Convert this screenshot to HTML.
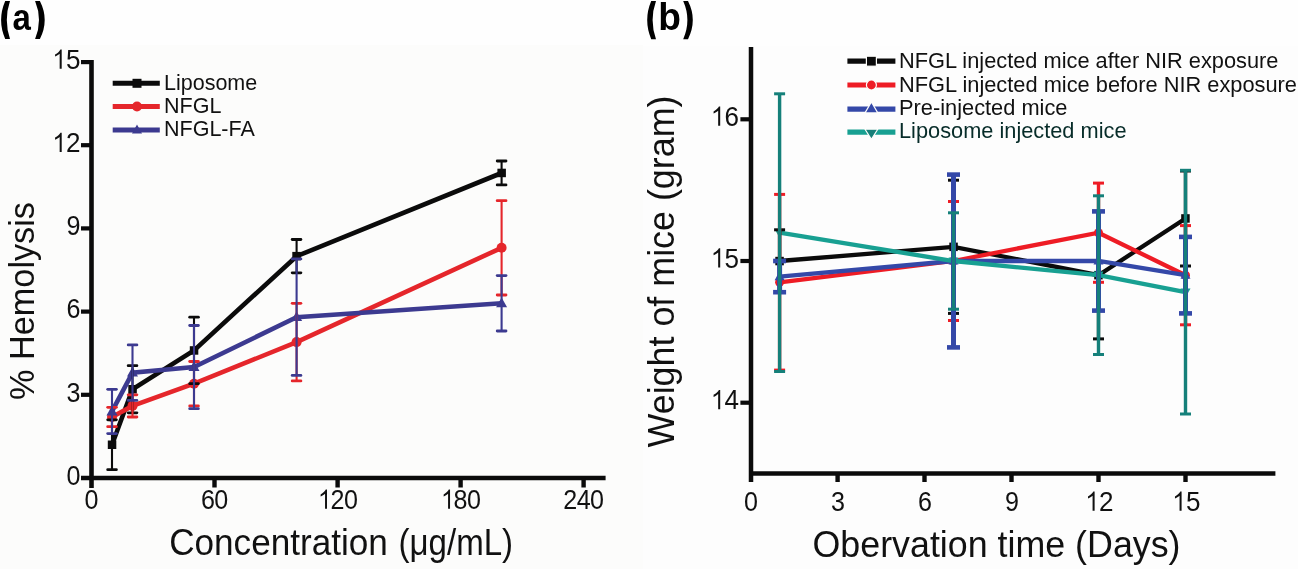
<!DOCTYPE html>
<html><head><meta charset="utf-8"><style>
html,body{margin:0;padding:0;background:#fefefe;}
body{width:1298px;height:569px;overflow:hidden;}
svg{display:block;font-family:"Liberation Sans", sans-serif;will-change:transform;}
</style></head><body>
<svg width="1298" height="569" viewBox="0 0 1298 569">
<rect x="0" y="0" width="1298" height="569" fill="#fefefe"/>
<rect x="0" y="45" width="643" height="524" fill="#fcfcfb"/>
<rect x="643" y="46" width="655" height="523" fill="#fdfdfd"/>

<path d="M5.2,1.1 Q-3.00,20.10 5.2,39.1 L10,39.1 Q3.60,20.10 10,1.1 Z" fill="#000"/>
<path d="M39.9,1.1 Q49.50,20.10 39.9,39.1 L35.1,39.1 Q42.90,20.10 35.1,1.1 Z" fill="#000"/>
<text transform="translate(12.43,30.15) scale(0.914,1)" x="0" y="0" font-size="36.1" font-weight="bold" fill="#000">a</text>
<path d="M651.2,1.1 Q643.20,20.15 651.2,39.2 L656,39.2 Q649.20,20.15 656,1.1 Z" fill="#000"/>
<path d="M688,1.1 Q697.60,20.15 688,39.2 L683.2,39.2 Q691.60,20.15 683.2,1.1 Z" fill="#000"/>
<text transform="translate(658.35,30.33) scale(0.969,1)" x="0" y="0" font-size="38.3" font-weight="bold" fill="#000">b</text>
<line x1="91.5" y1="60" x2="91.5" y2="488" stroke="#0b0b0b" stroke-width="4.6"/>
<line x1="81" y1="478" x2="605.6" y2="478" stroke="#0b0b0b" stroke-width="4.6"/>
<line x1="81" y1="394.8" x2="92" y2="394.8" stroke="#0b0b0b" stroke-width="4.2"/>
<line x1="81" y1="311.6" x2="92" y2="311.6" stroke="#0b0b0b" stroke-width="4.2"/>
<line x1="81" y1="228.4" x2="92" y2="228.4" stroke="#0b0b0b" stroke-width="4.2"/>
<line x1="81" y1="145.2" x2="92" y2="145.2" stroke="#0b0b0b" stroke-width="4.2"/>
<line x1="81" y1="62.1" x2="92" y2="62.1" stroke="#0b0b0b" stroke-width="4.2"/>
<line x1="214.5" y1="478" x2="214.5" y2="487.5" stroke="#0b0b0b" stroke-width="4.4"/>
<line x1="337.6" y1="478" x2="337.6" y2="487.5" stroke="#0b0b0b" stroke-width="4.4"/>
<line x1="460.6" y1="478" x2="460.6" y2="487.5" stroke="#0b0b0b" stroke-width="4.4"/>
<line x1="583.6" y1="478" x2="583.6" y2="487.5" stroke="#0b0b0b" stroke-width="4.4"/>
<text transform="translate(66.54,484.80) scale(0.93,1)" x="0" y="0" font-size="27.0" fill="#111">0</text>
<text transform="translate(66.54,401.61) scale(0.93,1)" x="0" y="0" font-size="27.0" fill="#111">3</text>
<text transform="translate(66.54,318.42) scale(0.93,1)" x="0" y="0" font-size="27.0" fill="#111">6</text>
<text transform="translate(66.54,235.23) scale(0.93,1)" x="0" y="0" font-size="27.0" fill="#111">9</text>
<path transform="translate(51.61,152.04) scale(0.01272,-0.01318)" d="M793 0H633V1147Q568 1085 462 1023Q356 961 272 930V1094Q422 1165 534 1266Q646 1367 693 1462H793Z" fill="#111"/><text transform="translate(66.01,152.04) scale(0.965,1)" x="0" y="0" font-size="27.0" fill="#111">2</text>
<path transform="translate(51.61,68.85) scale(0.01272,-0.01318)" d="M793 0H633V1147Q568 1085 462 1023Q356 961 272 930V1094Q422 1165 534 1266Q646 1367 693 1462H793Z" fill="#111"/><text transform="translate(66.01,68.85) scale(0.965,1)" x="0" y="0" font-size="27.0" fill="#111">5</text>
<text transform="translate(84.52,508.80) scale(0.93,1)" x="0" y="0" font-size="27.0" fill="#111">0</text>
<text transform="translate(200.90,508.80) scale(0.93,1)" x="0" y="0" font-size="27.0" fill="#111">6</text><text transform="translate(214.20,508.80) scale(0.93,1)" x="0" y="0" font-size="27.0" fill="#111">0</text>
<path transform="translate(317.28,508.80) scale(0.01226,-0.01318)" d="M793 0H633V1147Q568 1085 462 1023Q356 961 272 930V1094Q422 1165 534 1266Q646 1367 693 1462H793Z" fill="#111"/><text transform="translate(330.58,508.80) scale(0.93,1)" x="0" y="0" font-size="27.0" fill="#111">2</text><text transform="translate(343.88,508.80) scale(0.93,1)" x="0" y="0" font-size="27.0" fill="#111">0</text>
<path transform="translate(440.31,508.80) scale(0.01226,-0.01318)" d="M793 0H633V1147Q568 1085 462 1023Q356 961 272 930V1094Q422 1165 534 1266Q646 1367 693 1462H793Z" fill="#111"/><text transform="translate(453.61,508.80) scale(0.93,1)" x="0" y="0" font-size="27.0" fill="#111">8</text><text transform="translate(466.91,508.80) scale(0.93,1)" x="0" y="0" font-size="27.0" fill="#111">0</text>
<text transform="translate(563.34,508.80) scale(0.93,1)" x="0" y="0" font-size="27.0" fill="#111">2</text><text transform="translate(576.64,508.80) scale(0.93,1)" x="0" y="0" font-size="27.0" fill="#111">4</text><text transform="translate(589.94,508.80) scale(0.93,1)" x="0" y="0" font-size="27.0" fill="#111">0</text>
<text x="169.22" y="555.00" font-size="36" fill="#111" textLength="218.56" lengthAdjust="spacingAndGlyphs">Concentration</text>
<text x="398.45" y="555.00" font-size="36" fill="#111" textLength="114.71" lengthAdjust="spacingAndGlyphs">(μg/mL)</text>
<text transform="translate(34.4,400) rotate(-90)" x="0" y="0" font-size="35" fill="#111" textLength="198" lengthAdjust="spacingAndGlyphs">% Hemolysis</text>
<polyline points="112.0,444.7 132.5,389.3 194.0,350.4 296.6,256.2 501.6,173.0" fill="none" stroke="#0b0b0b" stroke-width="4.6" stroke-linejoin="miter"/>
<rect x="107.8" y="440.5" width="8.5" height="8.5" fill="#0b0b0b"/>
<rect x="128.3" y="385.0" width="8.5" height="8.5" fill="#0b0b0b"/>
<rect x="189.8" y="346.2" width="8.5" height="8.5" fill="#0b0b0b"/>
<rect x="292.3" y="251.9" width="8.5" height="8.5" fill="#0b0b0b"/>
<rect x="497.4" y="168.7" width="8.5" height="8.5" fill="#0b0b0b"/>
<polyline points="112.0,417.0 132.5,405.9 194.0,383.7 296.6,342.1 501.6,247.8" fill="none" stroke="#e5262b" stroke-width="4.6" stroke-linejoin="miter"/>
<circle cx="112.0" cy="417.0" r="5" fill="#e5262b"/>
<circle cx="132.5" cy="405.9" r="5" fill="#e5262b"/>
<circle cx="194.0" cy="383.7" r="5" fill="#e5262b"/>
<circle cx="296.6" cy="342.1" r="5" fill="#e5262b"/>
<circle cx="501.6" cy="247.8" r="5" fill="#e5262b"/>
<polyline points="112.0,411.4 132.5,372.6 194.0,367.1 296.6,317.2 501.6,303.3" fill="none" stroke="#3c3a90" stroke-width="4.6" stroke-linejoin="miter"/>
<polygon points="112.0,405.5 106.5,415.4 117.5,415.4" fill="#3c3a90"/>
<polygon points="132.5,366.7 127.0,376.6 138.0,376.6" fill="#3c3a90"/>
<polygon points="194.0,361.1 188.5,371.0 199.5,371.0" fill="#3c3a90"/>
<polygon points="296.6,311.2 291.1,321.1 302.1,321.1" fill="#3c3a90"/>
<polygon points="501.6,297.4 496.1,307.3 507.1,307.3" fill="#3c3a90"/>
<line x1="112.0" y1="469.7" x2="112.0" y2="419.8" stroke="#0b0b0b" stroke-width="2.1"/><line x1="107.7" y1="469.7" x2="116.4" y2="469.7" stroke="#0b0b0b" stroke-width="2.8" stroke-linecap="round"/><line x1="107.7" y1="419.8" x2="116.4" y2="419.8" stroke="#0b0b0b" stroke-width="2.8" stroke-linecap="round"/>
<line x1="132.5" y1="412.8" x2="132.5" y2="365.7" stroke="#0b0b0b" stroke-width="2.1"/><line x1="128.2" y1="412.8" x2="136.9" y2="412.8" stroke="#0b0b0b" stroke-width="2.8" stroke-linecap="round"/><line x1="128.2" y1="365.7" x2="136.9" y2="365.7" stroke="#0b0b0b" stroke-width="2.8" stroke-linecap="round"/>
<line x1="194.0" y1="383.7" x2="194.0" y2="317.2" stroke="#0b0b0b" stroke-width="2.1"/><line x1="189.7" y1="383.7" x2="198.4" y2="383.7" stroke="#0b0b0b" stroke-width="2.8" stroke-linecap="round"/><line x1="189.7" y1="317.2" x2="198.4" y2="317.2" stroke="#0b0b0b" stroke-width="2.8" stroke-linecap="round"/>
<line x1="296.6" y1="272.8" x2="296.6" y2="239.5" stroke="#0b0b0b" stroke-width="2.1"/><line x1="292.2" y1="272.8" x2="300.9" y2="272.8" stroke="#0b0b0b" stroke-width="2.8" stroke-linecap="round"/><line x1="292.2" y1="239.5" x2="300.9" y2="239.5" stroke="#0b0b0b" stroke-width="2.8" stroke-linecap="round"/>
<line x1="501.6" y1="184.9" x2="501.6" y2="161.0" stroke="#0b0b0b" stroke-width="2.1"/><line x1="497.2" y1="184.9" x2="506.0" y2="184.9" stroke="#0b0b0b" stroke-width="2.8" stroke-linecap="round"/><line x1="497.2" y1="161.0" x2="506.0" y2="161.0" stroke="#0b0b0b" stroke-width="2.8" stroke-linecap="round"/>
<line x1="112.0" y1="426.7" x2="112.0" y2="407.3" stroke="#e5262b" stroke-width="2.1"/><line x1="107.7" y1="426.7" x2="116.4" y2="426.7" stroke="#e5262b" stroke-width="2.8" stroke-linecap="round"/><line x1="107.7" y1="407.3" x2="116.4" y2="407.3" stroke="#e5262b" stroke-width="2.8" stroke-linecap="round"/>
<line x1="132.5" y1="417.0" x2="132.5" y2="394.8" stroke="#e5262b" stroke-width="2.1"/><line x1="128.2" y1="417.0" x2="136.9" y2="417.0" stroke="#e5262b" stroke-width="2.8" stroke-linecap="round"/><line x1="128.2" y1="394.8" x2="136.9" y2="394.8" stroke="#e5262b" stroke-width="2.8" stroke-linecap="round"/>
<line x1="194.0" y1="405.9" x2="194.0" y2="361.5" stroke="#e5262b" stroke-width="2.1"/><line x1="189.7" y1="405.9" x2="198.4" y2="405.9" stroke="#e5262b" stroke-width="2.8" stroke-linecap="round"/><line x1="189.7" y1="361.5" x2="198.4" y2="361.5" stroke="#e5262b" stroke-width="2.8" stroke-linecap="round"/>
<line x1="296.6" y1="380.9" x2="296.6" y2="303.3" stroke="#e5262b" stroke-width="2.1"/><line x1="292.2" y1="380.9" x2="300.9" y2="380.9" stroke="#e5262b" stroke-width="2.8" stroke-linecap="round"/><line x1="292.2" y1="303.3" x2="300.9" y2="303.3" stroke="#e5262b" stroke-width="2.8" stroke-linecap="round"/>
<line x1="501.6" y1="295.0" x2="501.6" y2="200.7" stroke="#e5262b" stroke-width="2.1"/><line x1="497.2" y1="295.0" x2="506.0" y2="295.0" stroke="#e5262b" stroke-width="2.8" stroke-linecap="round"/><line x1="497.2" y1="200.7" x2="506.0" y2="200.7" stroke="#e5262b" stroke-width="2.8" stroke-linecap="round"/>
<line x1="112.0" y1="433.6" x2="112.0" y2="389.3" stroke="#3c3a90" stroke-width="2.1"/><line x1="107.7" y1="433.6" x2="116.4" y2="433.6" stroke="#3c3a90" stroke-width="2.8" stroke-linecap="round"/><line x1="107.7" y1="389.3" x2="116.4" y2="389.3" stroke="#3c3a90" stroke-width="2.8" stroke-linecap="round"/>
<line x1="132.5" y1="400.4" x2="132.5" y2="344.9" stroke="#3c3a90" stroke-width="2.1"/><line x1="128.2" y1="400.4" x2="136.9" y2="400.4" stroke="#3c3a90" stroke-width="2.8" stroke-linecap="round"/><line x1="128.2" y1="344.9" x2="136.9" y2="344.9" stroke="#3c3a90" stroke-width="2.8" stroke-linecap="round"/>
<line x1="194.0" y1="408.7" x2="194.0" y2="325.5" stroke="#3c3a90" stroke-width="2.1"/><line x1="189.7" y1="408.7" x2="198.4" y2="408.7" stroke="#3c3a90" stroke-width="2.8" stroke-linecap="round"/><line x1="189.7" y1="325.5" x2="198.4" y2="325.5" stroke="#3c3a90" stroke-width="2.8" stroke-linecap="round"/>
<line x1="296.6" y1="375.4" x2="296.6" y2="258.9" stroke="#3c3a90" stroke-width="2.1"/><line x1="292.2" y1="375.4" x2="300.9" y2="375.4" stroke="#3c3a90" stroke-width="2.8" stroke-linecap="round"/><line x1="292.2" y1="258.9" x2="300.9" y2="258.9" stroke="#3c3a90" stroke-width="2.8" stroke-linecap="round"/>
<line x1="501.6" y1="331.0" x2="501.6" y2="275.6" stroke="#3c3a90" stroke-width="2.1"/><line x1="497.2" y1="331.0" x2="506.0" y2="331.0" stroke="#3c3a90" stroke-width="2.8" stroke-linecap="round"/><line x1="497.2" y1="275.6" x2="506.0" y2="275.6" stroke="#3c3a90" stroke-width="2.8" stroke-linecap="round"/>
<line x1="112.7" y1="83.3" x2="159.8" y2="83.3" stroke="#0b0b0b" stroke-width="4.9"/>
<rect x="132.5" y="78.8" width="9" height="9" fill="#0b0b0b"/>
<text x="164" y="90.3" font-size="21.5" fill="#111" text-anchor="start" font-weight="normal" >Liposome</text>
<line x1="112.7" y1="106.5" x2="159.8" y2="106.5" stroke="#e5262b" stroke-width="4.9"/>
<circle cx="137.0" cy="106.5" r="5" fill="#e5262b"/>
<text x="164" y="112.9" font-size="21.5" fill="#111" text-anchor="start" font-weight="normal" >NFGL</text>
<line x1="112.7" y1="130" x2="159.8" y2="130" stroke="#3c3a90" stroke-width="4.9"/>
<polygon points="137.0,124.6 132.0,133.6 142.0,133.6" fill="#3c3a90"/>
<text x="164" y="136.4" font-size="21.5" fill="#111" text-anchor="start" font-weight="normal" >NFGL-FA</text>
<line x1="751" y1="47" x2="751" y2="482" stroke="#0b0b0b" stroke-width="4.5"/>
<line x1="749" y1="473.5" x2="1275.4" y2="473.5" stroke="#0b0b0b" stroke-width="4.5"/>
<line x1="740.4" y1="402.7" x2="752" y2="402.7" stroke="#0b0b0b" stroke-width="4.2"/>
<path transform="translate(710.11,409.20) scale(0.01272,-0.01318)" d="M793 0H633V1147Q568 1085 462 1023Q356 961 272 930V1094Q422 1165 534 1266Q646 1367 693 1462H793Z" fill="#111"/><text transform="translate(724.51,409.20) scale(0.965,1)" x="0" y="0" font-size="27.0" fill="#111">4</text>
<line x1="740.4" y1="261.0" x2="752" y2="261.0" stroke="#0b0b0b" stroke-width="4.2"/>
<path transform="translate(710.11,267.50) scale(0.01272,-0.01318)" d="M793 0H633V1147Q568 1085 462 1023Q356 961 272 930V1094Q422 1165 534 1266Q646 1367 693 1462H793Z" fill="#111"/><text transform="translate(724.51,267.50) scale(0.965,1)" x="0" y="0" font-size="27.0" fill="#111">5</text>
<line x1="740.4" y1="119.3" x2="752" y2="119.3" stroke="#0b0b0b" stroke-width="4.2"/>
<path transform="translate(710.11,125.80) scale(0.01272,-0.01318)" d="M793 0H633V1147Q568 1085 462 1023Q356 961 272 930V1094Q422 1165 534 1266Q646 1367 693 1462H793Z" fill="#111"/><text transform="translate(724.51,125.80) scale(0.965,1)" x="0" y="0" font-size="27.0" fill="#111">6</text>
<line x1="837.6" y1="473" x2="837.6" y2="482" stroke="#0b0b0b" stroke-width="4.4"/>
<line x1="924.5" y1="473" x2="924.5" y2="482" stroke="#0b0b0b" stroke-width="4.4"/>
<line x1="1011.5" y1="473" x2="1011.5" y2="482" stroke="#0b0b0b" stroke-width="4.4"/>
<line x1="1098.5" y1="473" x2="1098.5" y2="482" stroke="#0b0b0b" stroke-width="4.4"/>
<line x1="1185.5" y1="473" x2="1185.5" y2="482" stroke="#0b0b0b" stroke-width="4.4"/>
<text transform="translate(744.12,510.80) scale(0.93,1)" x="0" y="0" font-size="27.0" fill="#111">0</text>
<text transform="translate(831.09,510.80) scale(0.93,1)" x="0" y="0" font-size="27.0" fill="#111">3</text>
<text transform="translate(918.06,510.80) scale(0.93,1)" x="0" y="0" font-size="27.0" fill="#111">6</text>
<text transform="translate(1005.03,510.80) scale(0.93,1)" x="0" y="0" font-size="27.0" fill="#111">9</text>
<path transform="translate(1084.53,510.80) scale(0.01272,-0.01318)" d="M793 0H633V1147Q568 1085 462 1023Q356 961 272 930V1094Q422 1165 534 1266Q646 1367 693 1462H793Z" fill="#111"/><text transform="translate(1098.93,510.80) scale(0.965,1)" x="0" y="0" font-size="27.0" fill="#111">2</text>
<path transform="translate(1171.50,510.80) scale(0.01272,-0.01318)" d="M793 0H633V1147Q568 1085 462 1023Q356 961 272 930V1094Q422 1165 534 1266Q646 1367 693 1462H793Z" fill="#111"/><text transform="translate(1185.90,510.80) scale(0.965,1)" x="0" y="0" font-size="27.0" fill="#111">5</text>
<text x="812.5" y="557" font-size="36" fill="#111" text-anchor="start" font-weight="normal" textLength="368" lengthAdjust="spacingAndGlyphs" >Obervation time (Days)</text>
<text transform="translate(673.6,447.5) rotate(-90)" x="0" y="0" font-size="36" fill="#111" textLength="352" lengthAdjust="spacingAndGlyphs">Weight of mice (gram)</text>
<polyline points="779.6,261.0 953.5,246.8 1098.5,275.2 1185.5,218.5" fill="none" stroke="#0b0b0b" stroke-width="4.3" stroke-linejoin="miter"/>
<rect x="775.3" y="256.8" width="8.5" height="8.5" fill="#0b0b0b"/>
<rect x="949.3" y="242.6" width="8.5" height="8.5" fill="#0b0b0b"/>
<rect x="1094.2" y="270.9" width="8.5" height="8.5" fill="#0b0b0b"/>
<rect x="1181.2" y="214.2" width="8.5" height="8.5" fill="#0b0b0b"/>
<polyline points="779.6,282.3 953.5,261.0 1098.5,232.7 1185.5,275.2" fill="none" stroke="#ee1c25" stroke-width="4.3" stroke-linejoin="miter"/>
<circle cx="779.6" cy="282.3" r="4.5" fill="#ee1c25"/>
<circle cx="953.5" cy="261.0" r="4.5" fill="#ee1c25"/>
<circle cx="1098.5" cy="232.7" r="4.5" fill="#ee1c25"/>
<circle cx="1185.5" cy="275.2" r="4.5" fill="#ee1c25"/>
<polyline points="779.6,276.6 953.5,261.0 1098.5,261.0 1185.5,275.2" fill="none" stroke="#3448a8" stroke-width="4.3" stroke-linejoin="miter"/>
<polygon points="779.6,271.2 774.6,280.2 784.6,280.2" fill="#3448a8"/>
<polygon points="953.5,255.6 948.5,264.6 958.5,264.6" fill="#3448a8"/>
<polygon points="1098.5,255.6 1093.5,264.6 1103.5,264.6" fill="#3448a8"/>
<polygon points="1185.5,269.8 1180.5,278.8 1190.5,278.8" fill="#3448a8"/>
<polyline points="779.6,232.7 953.5,261.0 1098.5,275.2 1185.5,292.2" fill="none" stroke="#18a092" stroke-width="4.3" stroke-linejoin="miter"/>
<polygon points="779.6,238.1 774.6,229.1 784.6,229.1" fill="#18a092"/>
<polygon points="953.5,266.4 948.5,257.4 958.5,257.4" fill="#18a092"/>
<polygon points="1098.5,280.6 1093.5,271.6 1103.5,271.6" fill="#18a092"/>
<polygon points="1185.5,297.6 1180.5,288.6 1190.5,288.6" fill="#18a092"/>
<line x1="779.6" y1="292.2" x2="779.6" y2="229.8" stroke="#0b0b0b" stroke-width="3.4"/><line x1="774.1" y1="292.2" x2="785.1" y2="292.2" stroke="#0b0b0b" stroke-width="3" stroke-linecap="butt"/><line x1="774.1" y1="229.8" x2="785.1" y2="229.8" stroke="#0b0b0b" stroke-width="3" stroke-linecap="butt"/>
<line x1="953.5" y1="313.4" x2="953.5" y2="180.2" stroke="#0b0b0b" stroke-width="3.4"/><line x1="948.0" y1="313.4" x2="959.0" y2="313.4" stroke="#0b0b0b" stroke-width="3" stroke-linecap="butt"/><line x1="948.0" y1="180.2" x2="959.0" y2="180.2" stroke="#0b0b0b" stroke-width="3" stroke-linecap="butt"/>
<line x1="1098.5" y1="338.9" x2="1098.5" y2="211.4" stroke="#0b0b0b" stroke-width="3.4"/><line x1="1093.0" y1="338.9" x2="1104.0" y2="338.9" stroke="#0b0b0b" stroke-width="3" stroke-linecap="butt"/><line x1="1093.0" y1="211.4" x2="1104.0" y2="211.4" stroke="#0b0b0b" stroke-width="3" stroke-linecap="butt"/>
<line x1="1185.5" y1="266.0" x2="1185.5" y2="171.0" stroke="#0b0b0b" stroke-width="3.4"/><line x1="1180.0" y1="266.0" x2="1191.0" y2="266.0" stroke="#0b0b0b" stroke-width="3" stroke-linecap="butt"/><line x1="1180.0" y1="171.0" x2="1191.0" y2="171.0" stroke="#0b0b0b" stroke-width="3" stroke-linecap="butt"/>
<line x1="779.6" y1="370.1" x2="779.6" y2="194.4" stroke="#ee1c25" stroke-width="3.4"/><line x1="774.1" y1="370.1" x2="785.1" y2="370.1" stroke="#ee1c25" stroke-width="3" stroke-linecap="butt"/><line x1="774.1" y1="194.4" x2="785.1" y2="194.4" stroke="#ee1c25" stroke-width="3" stroke-linecap="butt"/>
<line x1="953.5" y1="320.5" x2="953.5" y2="201.5" stroke="#ee1c25" stroke-width="3.4"/><line x1="948.0" y1="320.5" x2="959.0" y2="320.5" stroke="#ee1c25" stroke-width="3" stroke-linecap="butt"/><line x1="948.0" y1="201.5" x2="959.0" y2="201.5" stroke="#ee1c25" stroke-width="3" stroke-linecap="butt"/>
<line x1="1098.5" y1="282.3" x2="1098.5" y2="183.1" stroke="#ee1c25" stroke-width="3.4"/><line x1="1093.0" y1="282.3" x2="1104.0" y2="282.3" stroke="#ee1c25" stroke-width="3" stroke-linecap="butt"/><line x1="1093.0" y1="183.1" x2="1104.0" y2="183.1" stroke="#ee1c25" stroke-width="3" stroke-linecap="butt"/>
<line x1="1185.5" y1="324.8" x2="1185.5" y2="225.6" stroke="#ee1c25" stroke-width="3.4"/><line x1="1180.0" y1="324.8" x2="1191.0" y2="324.8" stroke="#ee1c25" stroke-width="3" stroke-linecap="butt"/><line x1="1180.0" y1="225.6" x2="1191.0" y2="225.6" stroke="#ee1c25" stroke-width="3" stroke-linecap="butt"/>
<line x1="779.6" y1="292.2" x2="779.6" y2="261.0" stroke="#3448a8" stroke-width="5"/><line x1="773.1" y1="292.2" x2="786.1" y2="292.2" stroke="#3448a8" stroke-width="4.6" stroke-linecap="butt"/><line x1="773.1" y1="261.0" x2="786.1" y2="261.0" stroke="#3448a8" stroke-width="4.6" stroke-linecap="butt"/>
<line x1="953.5" y1="347.4" x2="953.5" y2="174.6" stroke="#3448a8" stroke-width="5"/><line x1="947.0" y1="347.4" x2="960.0" y2="347.4" stroke="#3448a8" stroke-width="4.6" stroke-linecap="butt"/><line x1="947.0" y1="174.6" x2="960.0" y2="174.6" stroke="#3448a8" stroke-width="4.6" stroke-linecap="butt"/>
<line x1="1098.5" y1="310.6" x2="1098.5" y2="211.4" stroke="#3448a8" stroke-width="5"/><line x1="1092.0" y1="310.6" x2="1105.0" y2="310.6" stroke="#3448a8" stroke-width="4.6" stroke-linecap="butt"/><line x1="1092.0" y1="211.4" x2="1105.0" y2="211.4" stroke="#3448a8" stroke-width="4.6" stroke-linecap="butt"/>
<line x1="1185.5" y1="313.4" x2="1185.5" y2="236.9" stroke="#3448a8" stroke-width="5"/><line x1="1179.0" y1="313.4" x2="1192.0" y2="313.4" stroke="#3448a8" stroke-width="4.6" stroke-linecap="butt"/><line x1="1179.0" y1="236.9" x2="1192.0" y2="236.9" stroke="#3448a8" stroke-width="4.6" stroke-linecap="butt"/>
<line x1="779.6" y1="371.5" x2="779.6" y2="93.8" stroke="#15807a" stroke-width="3.4"/><line x1="774.1" y1="371.5" x2="785.1" y2="371.5" stroke="#15807a" stroke-width="3" stroke-linecap="butt"/><line x1="774.1" y1="93.8" x2="785.1" y2="93.8" stroke="#15807a" stroke-width="3" stroke-linecap="butt"/>
<line x1="953.5" y1="309.2" x2="953.5" y2="212.8" stroke="#15807a" stroke-width="3.4"/><line x1="948.0" y1="309.2" x2="959.0" y2="309.2" stroke="#15807a" stroke-width="3" stroke-linecap="butt"/><line x1="948.0" y1="212.8" x2="959.0" y2="212.8" stroke="#15807a" stroke-width="3" stroke-linecap="butt"/>
<line x1="1098.5" y1="354.5" x2="1098.5" y2="195.8" stroke="#15807a" stroke-width="3.4"/><line x1="1093.0" y1="354.5" x2="1104.0" y2="354.5" stroke="#15807a" stroke-width="3" stroke-linecap="butt"/><line x1="1093.0" y1="195.8" x2="1104.0" y2="195.8" stroke="#15807a" stroke-width="3" stroke-linecap="butt"/>
<line x1="1185.5" y1="414.0" x2="1185.5" y2="170.3" stroke="#15807a" stroke-width="3.4"/><line x1="1180.0" y1="414.0" x2="1191.0" y2="414.0" stroke="#15807a" stroke-width="3" stroke-linecap="butt"/><line x1="1180.0" y1="170.3" x2="1191.0" y2="170.3" stroke="#15807a" stroke-width="3" stroke-linecap="butt"/>
<line x1="847.4" y1="61.2" x2="895.4" y2="61.2" stroke="#0b0b0b" stroke-width="5.2"/>
<rect x="866.4" y="56.2" width="10" height="10" fill="#0b0b0b" stroke="#fdfdfb" stroke-width="1.2"/>
<text x="899" y="68.1" font-size="21.6" fill="#111" text-anchor="start" font-weight="normal" textLength="379.5" lengthAdjust="spacingAndGlyphs" >NFGL injected mice after NIR exposure</text>
<line x1="847.4" y1="85" x2="895.4" y2="85" stroke="#ee1c25" stroke-width="5.2"/>
<circle cx="871.4" cy="85" r="5" fill="#ee1c25" stroke="#fdfdfb" stroke-width="1.2"/>
<text x="899" y="91.8" font-size="21.6" fill="#111" text-anchor="start" font-weight="normal" textLength="398" lengthAdjust="spacingAndGlyphs" >NFGL injected mice before NIR exposure</text>
<line x1="847.4" y1="109.1" x2="895.4" y2="109.1" stroke="#3448a8" stroke-width="5.2"/>
<polygon points="871.4,101.89999999999999 865.0,112.89999999999999 877.8,112.89999999999999" fill="#3448a8" stroke="#fdfdfb" stroke-width="1.2"/>
<text x="899" y="115.2" font-size="21.6" fill="#111" text-anchor="start" font-weight="normal" textLength="168.5" lengthAdjust="spacingAndGlyphs" >Pre-injected mice</text>
<line x1="847.4" y1="132.2" x2="895.4" y2="132.2" stroke="#18a092" stroke-width="5.2"/>
<polygon points="871.4,139.39999999999998 865.0,129.2 877.8,129.2" fill="#177f78" stroke="#fdfdfb" stroke-width="1.2"/>
<text x="899" y="138.1" font-size="21.6" fill="#072c29" text-anchor="start" font-weight="normal" textLength="227.5" lengthAdjust="spacingAndGlyphs" >Liposome injected mice</text>
</svg>
</body></html>
